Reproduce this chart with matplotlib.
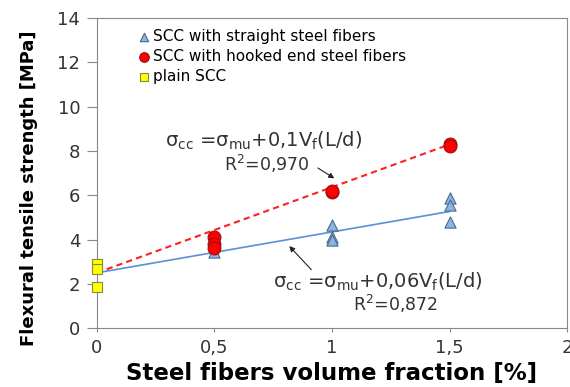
import numpy as np
import matplotlib.pyplot as plt
from matplotlib.ticker import FuncFormatter

plt.rc('font', family='DejaVu Sans')
plt.rcParams['mathtext.default'] = 'regular'

# data
x_plain = [0, 0, 0]
y_plain = [2.9, 2.65, 1.85]

x_straight = [0.5, 1.0, 1.0, 1.0, 1.5, 1.5, 1.5]
y_straight = [3.45, 4.65, 4.1, 4.0, 5.9, 5.55, 4.8]

x_hooked = [0.5, 0.5, 0.5, 1.0, 1.0, 1.5, 1.5]
y_hooked = [4.1, 3.8, 3.6, 6.15, 6.2, 8.3, 8.25]

# regression lines (end points)
fit_x = [0, 1.5]
fit_hooked = [2.5, 8.3]
fit_straight = [2.5, 5.27]

fig = plt.figure(figsize=(5.7, 3.87), dpi=100)
ax = fig.add_axes([0.170, 0.152, 0.825, 0.801])

ax.plot(fit_x, fit_straight, color='#5b8fd6', lw=1.2, zorder=2)
ax.plot(fit_x, fit_hooked, color='#ff2020', lw=1.5, ls=(0, (3, 2)), zorder=2)

ax.scatter(x_straight, y_straight, marker='^', s=65, color='#8db4e2',
           edgecolor='#4a6a8a', linewidth=0.8, zorder=3, clip_on=False,
           label='SCC with straight steel fibers')
ax.scatter(x_hooked, y_hooked, marker='o', s=85, color='#ff0000',
           edgecolor='#9a1010', linewidth=0.8, zorder=4, clip_on=False,
           label='SCC with hooked end steel fibers')
ax.scatter(x_plain, y_plain, marker='s', s=55, color='#ffff00',
           edgecolor='#8a8a30', linewidth=0.8, zorder=3, clip_on=False,
           label='plain SCC')

ax.set_xlim(0, 2)
ax.set_ylim(0, 14)
ax.set_xticks([0, 0.5, 1, 1.5, 2])
ax.set_yticks(range(0, 15, 2))
ax.xaxis.set_major_formatter(FuncFormatter(lambda v, p: ('%g' % v).replace('.', ',')))
ax.tick_params(labelsize=13, colors='#333333', color='#888888')
ax.tick_params(axis='x', length=3, pad=5)
ax.tick_params(axis='y', length=7, pad=5)
for s in ax.spines.values():
    s.set_color('#888888')

ax.set_xlabel('Steel fibers volume fraction [%]', fontsize=16.5, fontweight='bold')
ax.set_ylabel('Flexural tensile strength [MPa]', fontsize=13, fontweight='bold')
ax.xaxis.set_label_coords(0.5, -0.108)
ax.yaxis.set_label_coords(-0.125, 0.45)

ax.legend(loc='upper left', frameon=False, fontsize=11, handletextpad=0.0,
          handlelength=1.1, borderaxespad=0.3, labelspacing=0.32, markerscale=0.75,
          bbox_to_anchor=(0.06, 1.0))

ax.text(0.29, 8.45, r'$σ_{cc}$ =$σ_{mu}$+0,1V$_f$(L/d)', fontsize=14,
        color='#333333', ha='left', va='center')
ax.text(0.54, 7.4, r'R$^2$=0,970', fontsize=12.5, color='#333333', ha='left', va='center')
ax.annotate('', xy=(1.02, 6.7), xytext=(0.93, 7.3),
            arrowprops=dict(arrowstyle='-|>', color='#222222', lw=0.8, mutation_scale=8))

ax.text(0.75, 2.1, r'$σ_{cc}$ =$σ_{mu}$+0,06V$_f$(L/d)', fontsize=14,
        color='#333333', ha='left', va='center')
ax.text(1.09, 1.1, r'R$^2$=0,872', fontsize=12.5, color='#333333', ha='left', va='center')
ax.annotate('', xy=(0.81, 3.8), xytext=(0.92, 2.55),
            arrowprops=dict(arrowstyle='-|>', color='#222222', lw=0.8, mutation_scale=8))

fig.savefig('out.png', dpi=100)
